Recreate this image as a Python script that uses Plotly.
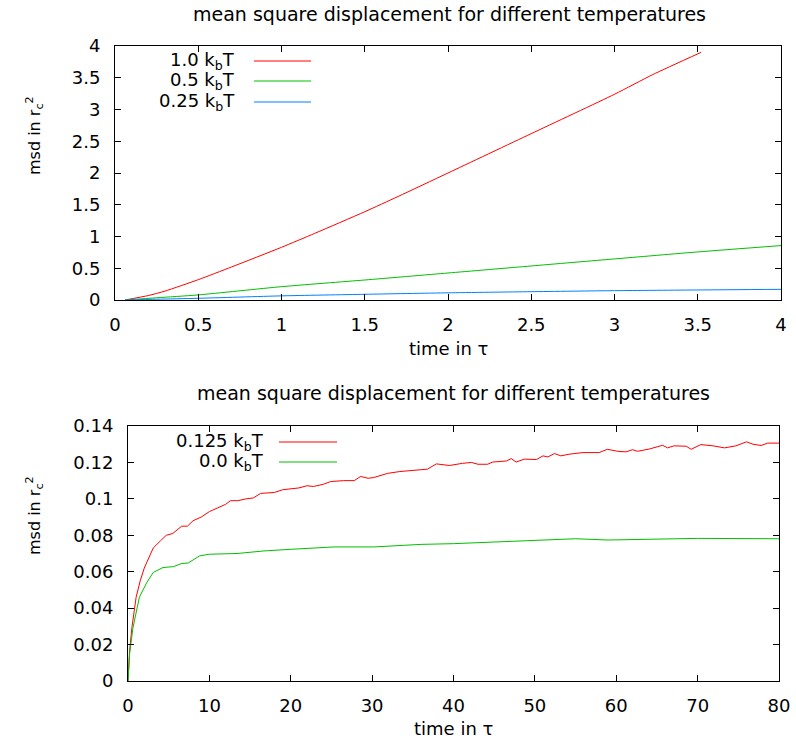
import plotly.graph_objects as go

# ---------------- data ----------------
# top panel: time in tau
t_top_red = [0.06, 0.2, 0.3, 0.5, 0.7, 1.0, 1.2, 1.5, 1.7, 2.0, 2.5, 3.0, 3.23, 3.52]
msd_top_red = [0.0, 0.07, 0.14, 0.32, 0.52, 0.83, 1.05, 1.39, 1.63, 2.00, 2.62, 3.24, 3.55, 3.90]

t_top_green = [0.06, 0.25, 0.5, 1.0, 1.5, 2.0, 2.5, 3.0, 3.5, 4.0]
msd_top_green = [0.0, 0.035, 0.08, 0.21, 0.315, 0.425, 0.536, 0.647, 0.757, 0.857]

t_top_blue = [0.06, 0.25, 0.5, 1.0, 1.5, 2.0, 2.5, 3.0, 3.5, 4.0]
msd_top_blue = [0.0, 0.012, 0.027, 0.065, 0.09, 0.113, 0.131, 0.147, 0.158, 0.168]

# bottom panel
t_bot_red = [0, 0.2, 0.5, 1.0, 1.5, 2.0, 2.5, 3.1, 4.0, 4.7, 5.5, 6.6, 7.3, 8.0, 9.0, 10.0,
             11.0, 12.0, 12.6, 13.5, 14.5, 15.4, 16.3, 18.0, 19.0, 20.0, 21.0, 22.0, 22.8,
             24.0, 24.9, 26.5, 27.8, 28.6, 29.5, 30.2, 31.9, 33.4, 35.4, 36.8, 37.9, 39.5,
             41.1, 42.2, 43.0, 44.2, 44.8, 46.5, 47.1, 47.7, 48.7, 50.2, 51.0, 51.6, 52.4,
             53.2, 54.2, 55.9, 57.9, 58.9, 60.2, 61.2, 62.0, 62.6, 64.1, 65.7, 66.3, 67.1,
             68.6, 69.2, 70.4, 71.9, 73.3, 74.7, 76.0, 76.8, 77.8, 78.6, 80.0]
msd_bot_red = [0.0, 0.017, 0.030, 0.046, 0.055, 0.062, 0.067, 0.073, 0.077, 0.080, 0.081,
               0.085, 0.085, 0.088, 0.090, 0.093, 0.095, 0.097, 0.099, 0.099, 0.100, 0.1005,
               0.103, 0.1035, 0.105, 0.1055, 0.106, 0.1072, 0.1068, 0.108, 0.1095, 0.110,
               0.110, 0.1123, 0.1113, 0.1117, 0.114, 0.115, 0.1159, 0.1163, 0.1192, 0.1183,
               0.1195, 0.120, 0.119, 0.119, 0.1202, 0.1208, 0.1221, 0.1202, 0.1218, 0.1216,
               0.1236, 0.123, 0.1249, 0.1236, 0.1245, 0.1254, 0.1254, 0.1272, 0.1261, 0.1258,
               0.127, 0.1261, 0.1274, 0.1294, 0.128, 0.1291, 0.1289, 0.1272, 0.1298, 0.1291,
               0.128, 0.1291, 0.1313, 0.130, 0.1293, 0.1306, 0.1306]

t_bot_green = [0, 0.2, 0.6, 1.0, 1.4, 2.3, 3.1, 4.3, 5.6, 6.6, 7.4, 8.8, 10.0, 13.4, 16.7,
               20.0, 25.3, 30.2, 33.4, 36.0, 40.0, 46.5, 50.0, 55.0, 59.0, 65.0, 70.0, 80.0]
msd_bot_green = [0.0, 0.015, 0.029, 0.038, 0.046, 0.054, 0.0596, 0.0623, 0.0628, 0.0645,
                 0.0648, 0.0687, 0.0696, 0.0700, 0.0714, 0.0723, 0.0736, 0.0736, 0.0745,
                 0.075, 0.0754, 0.0767, 0.0772, 0.0781, 0.0774, 0.078, 0.0783, 0.0781]

labels_top = ["1.0 k<sub>b</sub>T", "0.5 k<sub>b</sub>T", "0.25 k<sub>b</sub>T"]
labels_bot = ["0.125 k<sub>b</sub>T", "0.0 k<sub>b</sub>T"]
title_text = "mean square displacement for different temperatures"
x_title = "time in τ"
y_title = "msd in r<sub>c</sub><sup>2</sup>"

RED, GREEN, BLUE = "#ff0000", "#00c000", "#0080ff"
FONT = "DejaVu Sans"
W, H = 796, 740


def px(x):
    return x / W


def py(y):
    return 1 - y / H


fig = go.Figure()
spl = dict(width=1, shape="spline", smoothing=0.6)
fig.add_trace(go.Scatter(x=t_top_red, y=msd_top_red, mode="lines", line=dict(color=RED, **spl),
                         xaxis="x", yaxis="y", name="1.0 kbT"))
fig.add_trace(go.Scatter(x=t_top_green, y=msd_top_green, mode="lines", line=dict(color=GREEN, **spl),
                         xaxis="x", yaxis="y", name="0.5 kbT"))
fig.add_trace(go.Scatter(x=t_top_blue, y=msd_top_blue, mode="lines", line=dict(color=BLUE, **spl),
                         xaxis="x", yaxis="y", name="0.25 kbT"))
fig.add_trace(go.Scatter(x=t_bot_red, y=msd_bot_red, mode="lines", line=dict(color=RED, width=1),
                         xaxis="x2", yaxis="y2", name="0.125 kbT"))
fig.add_trace(go.Scatter(x=t_bot_green, y=msd_bot_green, mode="lines", line=dict(color=GREEN, width=1),
                         xaxis="x2", yaxis="y2", name="0.0 kbT"))

axis_common = dict(showline=True, linecolor="black", linewidth=1, mirror="ticks", ticks="inside",
                   ticklen=6, tickcolor="black", tickwidth=1, showgrid=False, zeroline=False,
                   automargin=False, tickfont=dict(family=FONT, size=18, color="black"))

fig.update_layout(
    width=W, height=H, margin=dict(l=0, r=0, t=0, b=0),
    paper_bgcolor="white", plot_bgcolor="white", showlegend=False,
    font=dict(family=FONT, color="black"),
    xaxis=dict(domain=[px(115), px(781)], range=[0, 4], tickvals=[0, 0.5, 1, 1.5, 2, 2.5, 3, 3.5, 4],
               ticktext=["0", "0.5", "1", "1.5", "2", "2.5", "3", "3.5", "4"], anchor="y",
               ticklabelstandoff=8, **axis_common),
    yaxis=dict(domain=[py(300), py(46)], range=[0, 4], tickvals=[0, 0.5, 1, 1.5, 2, 2.5, 3, 3.5, 4],
               ticktext=["0", "0.5", "1", "1.5", "2", "2.5", "3", "3.5", "4"], anchor="x",
               ticklabelstandoff=10, **axis_common),
    xaxis2=dict(domain=[px(128), px(779)], range=[0, 80], tickvals=[0, 10, 20, 30, 40, 50, 60, 70, 80],
                anchor="y2", ticklabelstandoff=8, **axis_common),
    yaxis2=dict(domain=[py(681), py(426)], range=[0, 0.14], tickvals=[0, 0.02, 0.04, 0.06, 0.08, 0.1, 0.12, 0.14],
                ticktext=["0", "0.02", "0.04", "0.06", "0.08", "0.1", "0.12", "0.14"], anchor="x2",
                ticklabelstandoff=10, **axis_common),
)

ann = []


def add_text(x, y, text, size=18, xanchor="center", angle=0):
    ann.append(dict(x=px(x), y=py(y), xref="paper", yref="paper", text=text, showarrow=False,
                    xanchor=xanchor, yanchor="middle", textangle=angle,
                    font=dict(family=FONT, size=size, color="black")))


add_text(449, 14, title_text, size=19)
add_text(453, 393, title_text, size=19)
add_text(448, 348, x_title)
add_text(453, 728, x_title)
add_text(34, 136, y_title, size=16, angle=-90)
add_text(34, 516, y_title, size=16, angle=-90)

shapes = []
for lab, col, yy in zip(labels_top, [RED, GREEN, BLUE], [61, 81, 102]):
    add_text(237, yy, lab, xanchor="right")
    shapes.append(dict(type="line", xref="paper", yref="paper", x0=px(254), x1=px(311), y0=py(yy), y1=py(yy),
                       line=dict(color=col, width=1)))
for lab, col, yy in zip(labels_bot, [RED, GREEN], [442, 462]):
    add_text(266, yy, lab, xanchor="right")
    shapes.append(dict(type="line", xref="paper", yref="paper", x0=px(279), x1=px(337), y0=py(yy), y1=py(yy),
                       line=dict(color=col, width=1)))

fig.update_layout(annotations=ann, shapes=shapes)
fig.write_html("out.html")
